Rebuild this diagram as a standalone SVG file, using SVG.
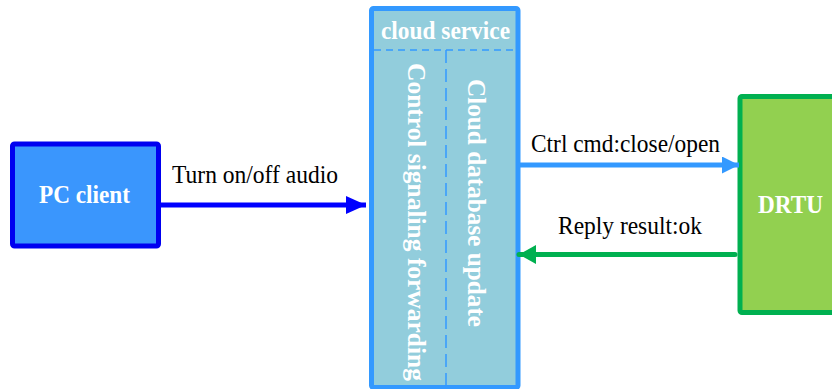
<svg xmlns="http://www.w3.org/2000/svg" width="832" height="389" viewBox="0 0 832 389">
  <style>
    .lbl { font-family: "Liberation Serif", "DejaVu Serif", serif; font-size: 25px; fill: #000000; }
    .ttl { font-family: "Liberation Serif", "DejaVu Serif", serif; font-size: 25px; font-weight: bold; fill: #ffffff; }
    .dash { stroke: #3399ff; stroke-width: 1.5; fill: none; }
  </style>
  <defs>
    <marker id="headBlue" viewBox="0 0 20 18" refX="20" refY="9" markerUnits="userSpaceOnUse" markerWidth="20" markerHeight="18" orient="auto">
      <path d="M0,0 L20,9 L0,18 Z" fill="#0000ff"/>
    </marker>
    <marker id="headSky" viewBox="0 0 17 17" refX="17" refY="8.5" markerUnits="userSpaceOnUse" markerWidth="17" markerHeight="17" orient="auto">
      <path d="M0,0 L17,8.5 L0,17 Z" fill="#3399ff"/>
    </marker>
    <marker id="headGreen" viewBox="0 0 17 19" refX="17" refY="9.5" markerUnits="userSpaceOnUse" markerWidth="17" markerHeight="19" orient="auto">
      <path d="M0,0 L17,9.5 L0,19 Z" fill="#00b050"/>
    </marker>
  </defs>

  <rect width="832" height="389" fill="#ffffff"/>

  <!-- nodes -->
  <g id="pc-client">
    <rect x="12.5" y="144" width="146" height="102" rx="2" fill="#3a96fd" stroke="#0000f0" stroke-width="5"/>
    <text class="ttl" x="39" y="202.5" textLength="91" lengthAdjust="spacingAndGlyphs">PC client</text>
  </g>

  <g id="cloud-service">
    <rect x="371.5" y="8.5" width="146.5" height="379" rx="2" fill="#92cddc" stroke="#3399ff" stroke-width="5"/>
    <line class="dash" x1="374" y1="50" x2="516" y2="50" stroke-dasharray="7,5"/>
    <line class="dash" x1="446" y1="50" x2="446" y2="386" stroke-dasharray="13,6"/>
    <text class="ttl" x="381" y="39" textLength="129" lengthAdjust="spacingAndGlyphs">cloud service</text>
    <text class="ttl" transform="translate(408,63) rotate(90)" x="0" y="0" textLength="318" lengthAdjust="spacingAndGlyphs">Control signaling forwarding</text>
    <text class="ttl" transform="translate(468,79) rotate(90)" x="0" y="0" textLength="248" lengthAdjust="spacingAndGlyphs">Cloud database update</text>
  </g>

  <g id="drtu">
    <rect x="740" y="96.5" width="100" height="216" rx="2" fill="#92d050" stroke="#00b050" stroke-width="5"/>
    <text class="ttl" x="758" y="212.5" textLength="65" lengthAdjust="spacingAndGlyphs">DRTU</text>
  </g>

  <!-- connectors -->
  <g id="connectors">
    <line x1="160" y1="205" x2="366" y2="205" stroke="#0000ff" stroke-width="5" marker-end="url(#headBlue)"/>
    <line x1="519" y1="165" x2="739" y2="165" stroke="#3399ff" stroke-width="5" marker-end="url(#headSky)"/>
    <line x1="735" y1="254.5" x2="519" y2="254.5" stroke="#00b050" stroke-width="5" stroke-linecap="round" marker-end="url(#headGreen)"/>
    <text class="lbl" x="172" y="183" textLength="166" lengthAdjust="spacingAndGlyphs">Turn on/off audio</text>
    <text class="lbl" x="531" y="152" textLength="189" lengthAdjust="spacingAndGlyphs">Ctrl cmd:close/open</text>
    <text class="lbl" x="558" y="233.5" textLength="144" lengthAdjust="spacingAndGlyphs">Reply result:ok</text>
  </g>
</svg>
